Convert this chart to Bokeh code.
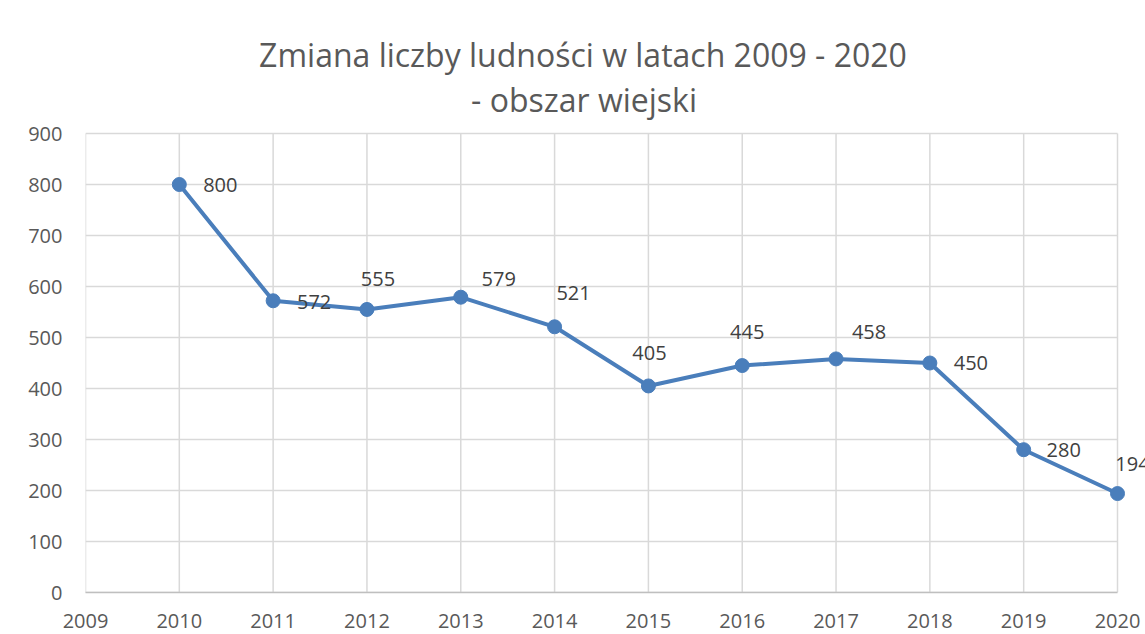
from bokeh.plotting import figure
from bokeh.models import Range1d, FixedTicker
from bokeh.core.properties import value
from bokeh.embed import file_html
from bokeh.resources import INLINE

# ---- data ----
years = [2010, 2011, 2012, 2013, 2014, 2015, 2016, 2017, 2018, 2019, 2020]
population_change = [800, 572, 555, 579, 521, 405, 445, 458, 450, 280, 194]
x_ticks = [2009, 2010, 2011, 2012, 2013, 2014, 2015, 2016, 2017, 2018, 2019, 2020]
y_ticks = [0, 100, 200, 300, 400, 500, 600, 700, 800, 900]
title_lines = ["Zmiana liczby ludności w latach 2009 - 2020", "- obszar wiejski"]

# ---- label placement (screen px; y up) ----
label_dx = [41, 41, 11, 38, 19, 1, 5, 33, 41, 40, 15]
label_dy = [0, -1, 30, 18, 34, 33, 34, 27, 0, 0, 30]

FONT = "Open Sans"
LINE_COLOR = "#4A7EBB"
TEXT_COLOR = "#595959"
GRID_COLOR = "#d9d9d9"

# ---- layout (page pixels) ----
W, H = 1145, 634
LEFT, BOTTOM = 85, 592          # position of 2009 / value 0
px_per_year = 1032 / 11.0
px_per_unit = 459 / 900.0
x_start = x_ticks[0]
x_end = x_start + (W - LEFT) / px_per_year
y_end = BOTTOM / px_per_unit


def data_x(px):
    return x_start + (px - LEFT) / px_per_year


def data_y(py):
    return (BOTTOM - py) / px_per_unit


p = figure(width=W, height=H, output_backend="svg", toolbar_location=None,
           x_range=Range1d(x_start, x_end), y_range=Range1d(0, y_end),
           min_border_left=LEFT, min_border_right=0, min_border_top=0,
           min_border_bottom=H - BOTTOM)
p.outline_line_color = None
p.background_fill_color = "white"
p.border_fill_color = "white"

# grid lines (limited to the chart's plot area)
p.xgrid.visible = False
p.ygrid.visible = False
p.segment(x0=x_ticks, x1=x_ticks, y0=[y_ticks[0]] * len(x_ticks), y1=[y_ticks[-1]] * len(x_ticks),
          line_color=GRID_COLOR, line_width=1.5)
p.segment(x0=[x_ticks[0]] * len(y_ticks), x1=[x_ticks[-1]] * len(y_ticks),
          y0=y_ticks, y1=y_ticks, line_color=GRID_COLOR, line_width=1.5)

# x axis
p.xaxis.ticker = FixedTicker(ticks=x_ticks)
p.xaxis.bounds = (x_ticks[0], x_ticks[-1])
p.xaxis.axis_line_color = "#bfbfbf"
p.xaxis.axis_line_width = 1.5
p.xaxis.major_tick_out = 0
p.xaxis.major_tick_in = 0
p.xaxis.minor_tick_out = 0
p.xaxis.minor_tick_in = 0
p.xaxis.major_label_text_font = FONT
p.xaxis.major_label_text_font_size = "20px"
p.xaxis.major_label_text_color = TEXT_COLOR
p.xaxis.major_label_standoff = 21

# y axis
p.yaxis.ticker = FixedTicker(ticks=y_ticks)
p.yaxis.axis_line_color = None
p.yaxis.major_tick_out = 0
p.yaxis.major_tick_in = 0
p.yaxis.minor_tick_out = 0
p.yaxis.minor_tick_in = 0
p.yaxis.major_label_text_font = FONT
p.yaxis.major_label_text_font_size = "20px"
p.yaxis.major_label_text_color = TEXT_COLOR
p.yaxis.major_label_standoff = 23

# series
p.line(years, population_change, line_color=LINE_COLOR, line_width=4)
p.scatter(years, population_change, size=14, fill_color=LINE_COLOR, line_color=LINE_COLOR)

p.text(x=years, y=population_change, text=[str(v) for v in population_change],
       x_offset=label_dx, y_offset=[-d for d in label_dy],
       text_align="center", text_baseline="middle",
       text_font=value(FONT), text_font_size="20px", text_color="#404040")

# title (two centred lines)
p.text(x=[data_x(582.5), data_x(583.5)], y=[data_y(54), data_y(99)], text=title_lines,
       text_align="center", text_baseline="middle",
       text_font=value(FONT), text_font_size="32px", text_color=TEXT_COLOR)

open("out.html", "w").write(file_html(p, INLINE))
